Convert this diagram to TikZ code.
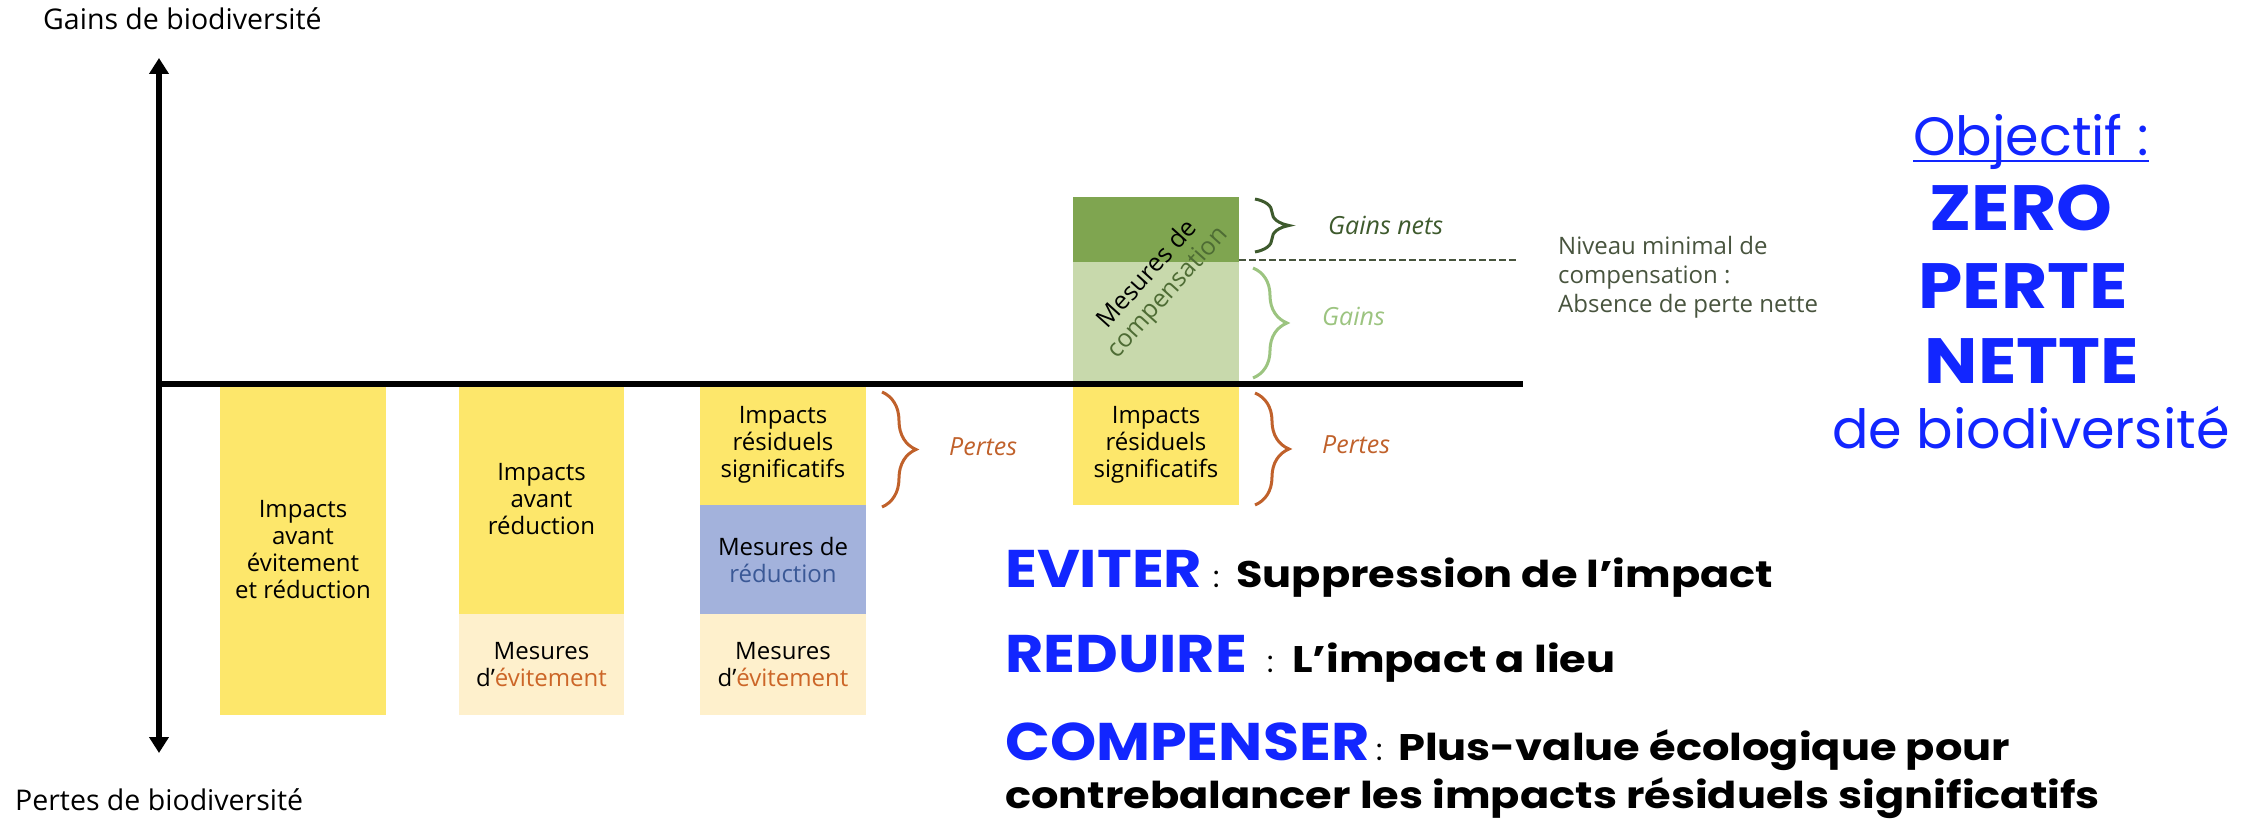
\documentclass[tikz,border=0pt]{standalone}
\usepackage{fontspec}
\setmainfont{Open Sans}
\newfontfamily\pop{Poppins}
\usetikzlibrary{arrows.meta,decorations.pathreplacing}
\definecolor{cyel}{RGB}{253,231,107}
\definecolor{cbeige}{RGB}{254,240,204}
\definecolor{cbluebar}{RGB}{163,178,220}
\definecolor{clgreen}{RGB}{200,217,172}
\definecolor{cdgreen}{RGB}{127,165,80}
\definecolor{corange}{RGB}{192,97,43}
\definecolor{cevit}{RGB}{204,102,40}
\definecolor{credtxt}{RGB}{58,88,150}
\definecolor{cdgtxt}{RGB}{62,90,45}
\definecolor{clgtxt}{RGB}{156,196,128}
\definecolor{cniv}{RGB}{72,84,62}
\definecolor{ccomp}{RGB}{78,108,52}
\definecolor{zblue}{RGB}{18,38,255}
\newcommand{\wideb}[1]{\scalebox{1.11}[1]{#1}}
\newcommand{\widet}[1]{\scalebox{1.165}[1]{#1}}
\begin{document}
\begin{tikzpicture}[x=1pt,y=-1pt,
  bar/.style={draw=none, inner sep=0pt, minimum width=166pt, align=center,
    font=\fontsize{24}{27}\selectfont},
  axisline/.style={line width=6pt},
  arr/.style={-{Triangle[length=16pt,width=19pt]}},
  brc/.style={decorate, decoration={brace, amplitude=34pt}, line width=3pt},
  lbl/.style={inner sep=0pt, anchor=base west, font=\fontsize{25}{30}\selectfont\itshape},
  plain/.style={inner sep=0pt, anchor=base west},
  bigc/.style={inner sep=0pt, anchor=base},
]
\useasboundingbox (0,0) rectangle (2241,821);

% bars
\node[bar, fill=cyel, minimum height=331pt] (b1) at (303,549.5) {Impacts\\avant\\évitement\\et réduction};
\node[bar, fill=cyel, minimum height=230pt, minimum width=165pt] (b2y) at (541.5,499) {Impacts\\avant\\réduction};
\node[bar, fill=cbeige, minimum height=101pt, minimum width=165pt] (b2b) at (541.5,664.5) {Mesures\\d’\textcolor{cevit}{évitement}};
\node[bar, fill=cyel, minimum height=121pt] (b3y) at (783,444.5) {Impacts\\résiduels\\significatifs};
\node[bar, fill=cbluebar, minimum height=109pt] (b3m) at (783,559.5) {Mesures de\\\textcolor{credtxt}{réduction}};
\node[bar, fill=cbeige, minimum height=101pt] (b3b) at (783,664.5) {Mesures\\d’\textcolor{cevit}{évitement}};
\node[bar, fill=cyel, minimum height=121pt] (b4y) at (1156,444.5) {Impacts\\résiduels\\significatifs};
\node[bar, fill=clgreen, minimum height=122pt] (b4l) at (1156,323) {};
\node[bar, fill=cdgreen, minimum height=65pt] (b4d) at (1156,229.5) {};
\node[rotate=48, align=center, inner sep=0pt, font=\fontsize{25}{27}\selectfont] (comptxt) at (1158,284) {Mesures de\\\textcolor{ccomp}{compensation}};

% axes
\coordinate (O) at (159,384);
\coordinate (T) at (159,58);
\coordinate (B) at (159,753);
\coordinate (E) at (1523,384);
\draw[axisline, arr] (O) -- (T);
\draw[axisline, arr] (O) -- (B);
\draw[axisline] ([xshift=-3pt]O) -- (E);

% dashed level
\coordinate (d1) at (1239,260);
\coordinate (d2) at (1519,260);
\draw[cniv, line width=2.5pt, dash pattern=on 7pt off 3pt] (d1) -- (d2);

% braces
\coordinate (gn1) at (1255,199); \coordinate (gn2) at (1255,252);
\coordinate (g1) at (1253,268);  \coordinate (g2) at (1253,378);
\coordinate (p1) at (1255,393);  \coordinate (p2) at (1255,505);
\coordinate (q1) at (882,392);   \coordinate (q2) at (882,507);
\draw[brc, cdgtxt] (gn1) -- (gn2);
\draw[brc, clgtxt] (g1) -- (g2);
\draw[brc, corange] (p1) -- (p2);
\draw[brc, corange] (q1) -- (q2);

% labels
\node[lbl, text=cdgtxt] (lgn) at (1328,235) {Gains nets};
\node[lbl, text=clgtxt] (lg) at (1322,325) {Gains};
\node[lbl, text=corange] (lp) at (1322,453) {Pertes};
\node[lbl, text=corange] (lq) at (949,455) {Pertes};
\node[plain, text=cniv, align=left, font=\fontsize{24}{29}\selectfont, anchor=north west] (niv) at (1558,236) {Niveau minimal de\\compensation :\\Absence de perte nette};

\node[plain, font=\fontsize{28.5}{32}\selectfont] (yg) at (43,30) {Gains de biodiversité};
\node[plain, font=\fontsize{28.5}{32}\selectfont] (yp) at (15,810) {Pertes de biodiversité};

% objective
\node[bigc, text=zblue, font=\pop\fontsize{54}{60}\selectfont] (obj) at (2031,156) {Objectif :};
\draw[zblue, line width=2.5pt] ([yshift=-5pt]obj.base west) -- ([yshift=-5pt]obj.base east);
\node[bigc, text=zblue, font=\pop\bfseries\fontsize{64}{70}\selectfont] (zero) at (2021,230) {\wideb{ZERO}};
\node[bigc, text=zblue, font=\pop\bfseries\fontsize{64}{70}\selectfont] (perte) at (2023,308) {\wideb{PERTE}};
\node[bigc, text=zblue, font=\pop\bfseries\fontsize{64}{70}\selectfont] (nette) at (2032,383) {\wideb{NETTE}};
\node[bigc, text=zblue, font=\pop\fontsize{54}{60}\selectfont] (bio) at (2031,448) {de biodiversité};

% ERC texts
\node[plain, text=zblue, font=\pop\bfseries\fontsize{53}{60}\selectfont] (ev) at (1005,587) {\wideb{EVITER}};
\node[plain, font=\pop\fontsize{30}{36}\selectfont] (evc) at (1213,587) {:};
\node[plain, font=\pop\bfseries\fontsize{37}{44}\selectfont] (evt) at (1236,587) {\widet{Suppression de l’impact}};
\node[plain, text=zblue, font=\pop\bfseries\fontsize{53}{60}\selectfont] (re) at (1005,672) {\wideb{REDUIRE}};
\node[plain, font=\pop\fontsize{30}{36}\selectfont] (rec) at (1267,672) {:};
\node[plain, font=\pop\bfseries\fontsize{37}{44}\selectfont] (ret) at (1292,672) {\widet{L’impact a lieu}};
\node[plain, text=zblue, font=\pop\bfseries\fontsize{53}{60}\selectfont] (co) at (1005,760) {\wideb{COMPENSER}};
\node[plain, font=\pop\fontsize{30}{36}\selectfont] (coc) at (1376,760) {:};
\node[plain, font=\pop\bfseries\fontsize{37}{44}\selectfont] (cot) at (1398,760) {\widet{Plus-value écologique pour}};
\node[plain, font=\pop\bfseries\fontsize{37}{44}\selectfont] (cot2) at (1005,808) {\widet{contrebalancer les impacts résiduels significatifs}};
\end{tikzpicture}
\end{document}
